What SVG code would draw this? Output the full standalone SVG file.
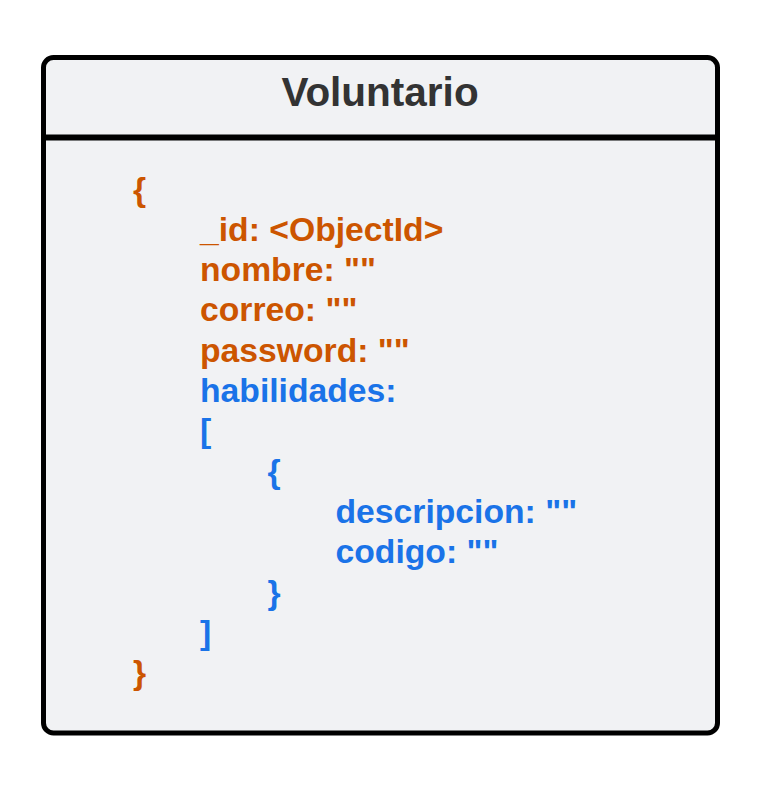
<svg xmlns="http://www.w3.org/2000/svg" width="771" height="795" viewBox="0 0 771 795">
<style>
.t{font-family:"Liberation Sans",Arial,sans-serif;font-weight:bold;font-size:33.7px}
.o{fill:#cc5500}
.b{fill:#1a73e8}
.title{font-family:"Liberation Sans",Arial,sans-serif;font-weight:bold;font-size:40.5px;fill:#333333}
</style>
<rect width="771" height="795" fill="#ffffff"/>
<g id="voluntario">
<rect x="43.5" y="57.5" width="674" height="675.5" rx="10" ry="10" fill="#f1f2f4" stroke="#000000" stroke-width="5"/>
<line x1="43.5" y1="137.5" x2="717.5" y2="137.5" stroke="#000000" stroke-width="6"/>
<text class="title" x="380" y="105.5" text-anchor="middle">Voluntario</text>
<text class="t o" x="133" y="200.5">{</text>
<text class="t o" x="200" y="240.8">_id: &lt;ObjectId&gt;</text>
<text class="t o" x="200" y="281.1">nombre: ""</text>
<text class="t o" x="200" y="321.4">correo: ""</text>
<text class="t o" x="200" y="361.7">password: ""</text>
<text class="t b" x="200" y="402">habilidades:</text>
<text class="t b" x="200" y="442.3">[</text>
<text class="t b" x="267.5" y="482.6">{</text>
<text class="t b" x="335.5" y="522.9">descripcion: ""</text>
<text class="t b" x="335.5" y="563.2">codigo: ""</text>
<text class="t b" x="267.5" y="603.5">}</text>
<text class="t b" x="200" y="643.8">]</text>
<text class="t o" x="133" y="684.1">}</text>
</g>
<g id="connectors"/>
</svg>
